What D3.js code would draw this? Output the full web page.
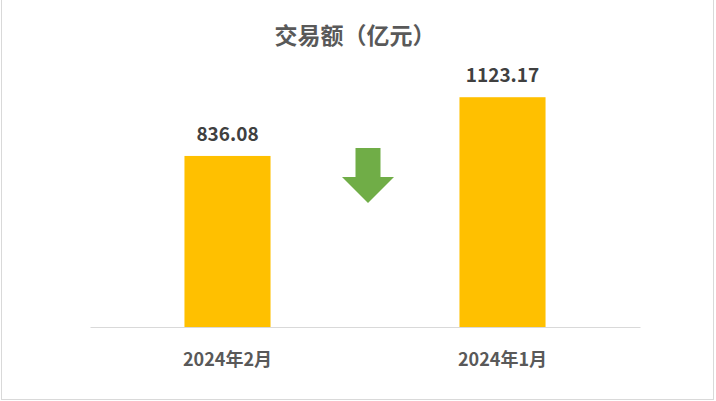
<!DOCTYPE html>
<html>
<head>
<meta charset="utf-8">
<script src="https://cdn.jsdelivr.net/npm/d3@7"></script>
<style>
  html, body { margin: 0; padding: 0; background: #fff; }
  svg { display: block; font-family: "Noto Sans CJK SC", "Noto Sans", sans-serif; }
</style>
</head>
<body>
<svg id="chart" width="716" height="401"></svg>
<script>
// data
var categories = [ '2024年2月', '2024年1月' ];
var values = [ 836.08, 1123.17 ];
var valueLabels = [ '836.08', '1123.17' ];
var title = '交易额（亿元）';

var width = 716, height = 401,
	margin = { top: 81.5, right: 76, bottom: 74, left: 90 };

var svg = d3.select( '#chart' );

// frame
svg.append( 'rect' )
	.attr( 'x', 1.5 )
	.attr( 'y', -2 )
	.attr( 'width', 712 )
	.attr( 'height', 401.5 )
	.attr( 'fill', 'none' )
	.attr( 'stroke', '#d9d9d9' );

var x = d3.scaleBand()
	.domain( categories )
	.range( [ margin.left, width - margin.right ] )
	.paddingInner( 0.687 )
	.paddingOuter( 0.3435 );

var y = d3.scaleLinear()
	.domain( [ 0, 1200 ] )
	.range( [ height - margin.bottom, margin.top ] );

// title
svg.append( 'text' )
	.attr( 'x', width / 2 - 3 )
	.attr( 'y', 44 )
	.attr( 'text-anchor', 'middle' )
	.attr( 'font-size', 23 )
	.attr( 'font-weight', 'bold' )
	.attr( 'fill', '#595959' )
	.text( title );

// bars
svg.selectAll( 'rect.bar' )
	.data( values )
	.enter()
	.append( 'rect' )
		.attr( 'class', 'bar' )
		.attr( 'x', function( d, i ) { return x( categories[ i ] ); } )
		.attr( 'y', function( d ) { return y( d ); } )
		.attr( 'width', x.bandwidth() )
		.attr( 'height', function( d ) { return y( 0 ) - y( d ); } )
		.attr( 'fill', '#ffc000' );

// value labels
svg.selectAll( 'text.value' )
	.data( values )
	.enter()
	.append( 'text' )
		.attr( 'class', 'value' )
		.attr( 'x', function( d, i ) { return x( categories[ i ] ) + x.bandwidth() / 2; } )
		.attr( 'y', function( d ) { return y( d ) - 15; } )
		.attr( 'text-anchor', 'middle' )
		.attr( 'font-size', 19 )
		.attr( 'font-weight', 'bold' )
		.attr( 'fill', '#404040' )
		.text( function( d, i ) { return valueLabels[ i ]; } );

// x axis
var xAxis = svg.append( 'g' )
	.attr( 'transform', 'translate(0,' + y( 0 ) + ')' )
	.call( d3.axisBottom( x ).tickSize( 0 ).tickPadding( 26 ) );

xAxis.select( '.domain' )
	.attr( 'stroke', '#d9d9d9' )
	.attr( 'stroke-width', 1 );

xAxis.selectAll( 'text' )
	.attr( 'font-family', '"Noto Sans CJK SC", sans-serif' )
	.attr( 'font-size', 18 )
	.attr( 'font-weight', 'bold' )
	.attr( 'fill', '#595959' );

// down arrow between the bars
var ax = ( x( categories[ 0 ] ) + x( categories[ 1 ] ) + x.bandwidth() ) / 2 + 3,
	ay = y( 875 );

svg.append( 'path' )
	.attr( 'transform', 'translate(' + ax + ',' + ay + ')' )
	.attr( 'd', 'M-12.5,0 L12.5,0 L12.5,29 L26,29 L0,55 L-26,29 L-12.5,29 Z' )
	.attr( 'fill', '#70ad47' );
</script>
</body>
</html>
